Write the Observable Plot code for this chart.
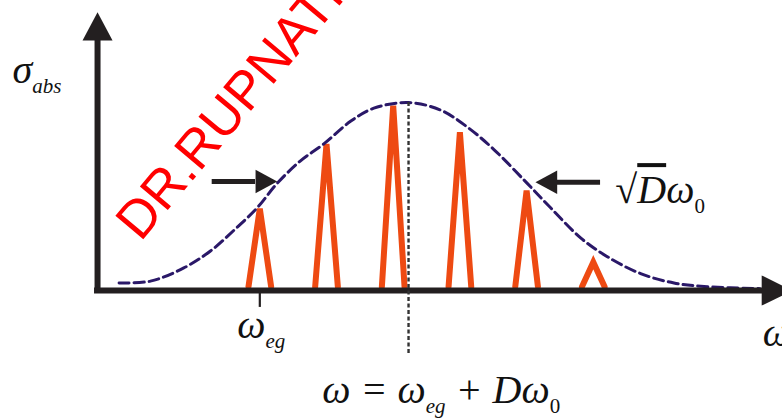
<!DOCTYPE html>
<html>
<head>
<meta charset="utf-8">
<script src="https://cdn.jsdelivr.net/npm/d3@7"></script>
<script src="https://cdn.jsdelivr.net/npm/@observablehq/plot@0.6"></script>
<style>
  html, body { margin: 0; padding: 0; background: #fff; }
  svg { display: block; background: #fff; }
</style>
</head>
<body>
<div id="chart"></div>
<script>
// ---- data (ω in units of ω0, origin at ω_eg; σ_abs normalised to envelope peak) ----
const spikeN = [0, 1, 2, 3, 4, 5];
const spikeH = [0.435, 0.780, 0.984, 0.842, 0.532, 0.151];
const spikeHalfWidth = 0.17;
const spikeBase = 0.02;

const envU = [-2.11, -1.64, -1.14, -0.74, -0.39, -0.04, 0.26, 0.61, 0.96, 1.36, 1.71, 2.23, 2.71, 3.11, 3.51, 4.01, 4.36, 4.81, 5.21, 5.71, 6.21, 6.71, 7.50];
const envY = [0.04, 0.05, 0.12, 0.21, 0.32, 0.44, 0.57, 0.69, 0.78, 0.90, 0.97, 1.00, 0.96, 0.87, 0.75, 0.57, 0.44, 0.28, 0.18, 0.09, 0.04, 0.02, 0.01];

const peakU = 2.23;          // ω = ω_eg + Dω0
const originU = -2.433;      // σ axis position
const yAxisTop = 1.34;
const xAxisEnd = 7.55;

const yHeadU = [-2.658, -2.433, -2.208];
const yHeadY = [1.330, 1.480, 1.330];
const xHeadU = [7.525, 7.987, 7.525];
const xHeadY = [0.080, 0.000, -0.080];

// width arrows (left pointing right, right pointing left)
const arrowShaftU1 = [-0.714, 5.109];
const arrowShaftU2 = [-0.064, 4.459];
const arrowY = [0.580, 0.576];
const leftHeadU = [-0.064, 0.261, -0.064];
const leftHeadY = [0.642, 0.580, 0.518];
const rightHeadU = [4.459, 4.133, 4.459];
const rightHeadY = [0.638, 0.576, 0.514];

const labelText = ["σ_{abs}", "ω_{eg}", "ω = ω_{eg} + Dω_{0}", "√^{D}ω_{0}", "ω"];
const labelU = [-3.708, -0.339, 0.936, 5.33, 7.54];
const labelY = [1.106, -0.255, -0.601, 0.465, -0.293];

const watermark = "DR.RUPNATHJI( DR.RUPAK NATH )";

// ---- build tables ----
const spikes = spikeN.flatMap((n, i) => [
  {u: n - spikeHalfWidth, y: spikeBase, k: i},
  {u: n, y: spikeH[i], k: i},
  {u: n + spikeHalfWidth, y: spikeBase, k: i}
]);
const envelope = envU.map((u, i) => ({u, y: envY[i]}));
const tri = (us, ys) => us.map((u, i) => ({u, y: ys[i]}));
const labels = labelText.map((t, i) => ({t, u: labelU[i], y: labelY[i]}));

const ink = "#231F20";
const orange = "#EE4A12";

const plot = Plot.plot({
  width: 782,
  height: 418,
  margin: 0,
  x: {domain: [-3.888, 7.837], axis: null},
  y: {domain: [-0.681, 1.543], axis: null},
  marks: [
    Plot.line(spikes, {x: "u", y: "y", z: "k", stroke: orange, strokeWidth: 6, strokeLinejoin: "miter", strokeMiterlimit: 4}),
    Plot.line(envelope, {x: "u", y: "y", curve: "catmull-rom", stroke: "#2A1868", strokeWidth: 3, strokeDasharray: "10,5"}),
    Plot.ruleX([originU], {y1: -0.016, y2: yAxisTop, stroke: ink, strokeWidth: 6}),
    Plot.ruleY([0], {x1: originU - 0.045, x2: xAxisEnd, stroke: ink, strokeWidth: 6}),
    Plot.line(tri(yHeadU, yHeadY), {x: "u", y: "y", fill: ink, stroke: null}),
    Plot.line(tri(xHeadU, xHeadY), {x: "u", y: "y", fill: ink, stroke: null}),
    Plot.ruleX([0], {y1: 0, y2: -0.09, stroke: ink, strokeWidth: 2.2}),
    Plot.ruleX([peakU], {y1: 1.0, y2: -0.346, stroke: "#333", strokeWidth: 2.4, strokeDasharray: "4,2.5"}),
    Plot.ruleY(arrowY, {x1: arrowShaftU1, x2: arrowShaftU2, y: arrowY, stroke: ink, strokeWidth: 5}),
    Plot.line(tri(leftHeadU, leftHeadY), {x: "u", y: "y", fill: ink, stroke: null}),
    Plot.line(tri(rightHeadU, rightHeadY), {x: "u", y: "y", fill: ink, stroke: null}),
    Plot.text(labels, {x: "u", y: "y", text: "t", textAnchor: "start", lineAnchor: "bottom",
      fontFamily: "Liberation Serif", fontStyle: "italic", fontSize: 40, fill: "#111"}),
    Plot.text([watermark], {x: [-1.789], y: [0.255], text: d => d, rotate: -50, textAnchor: "start", lineAnchor: "bottom",
      fontFamily: "Liberation Sans", fontSize: 53, fill: "#FF0000"})
  ]
});

// turn "_{..}" into subscripts and "^{..}" into overlined (radicand) spans
const SVGNS = "http://www.w3.org/2000/svg";
plot.querySelectorAll("text").forEach(t => {
  const s = t.textContent;
  if (!/[_^]\{/.test(s)) return;
  t.textContent = "";
  let shifted = 0;
  s.split(/([_^]\{[^}]*\})/).filter(p => p).forEach(p => {
    const ts = document.createElementNS(SVGNS, "tspan");
    if (p.startsWith("_{")) {
      const sub = p.slice(2, -1);
      ts.textContent = sub;
      ts.setAttribute("font-size", 21);
      if (/^\d+$/.test(sub)) ts.setAttribute("font-style", "normal");
      ts.setAttribute("dy", 10 - shifted);
      shifted = 10;
    } else {
      ts.textContent = p.startsWith("^{") ? p.slice(2, -1) : p;
      if (p.startsWith("^{")) ts.setAttribute("text-decoration", "overline");
      if (shifted) { ts.setAttribute("dy", -shifted); shifted = 0; }
    }
    t.appendChild(ts);
  });
});

document.getElementById("chart").appendChild(plot);
</script>
</body>
</html>
